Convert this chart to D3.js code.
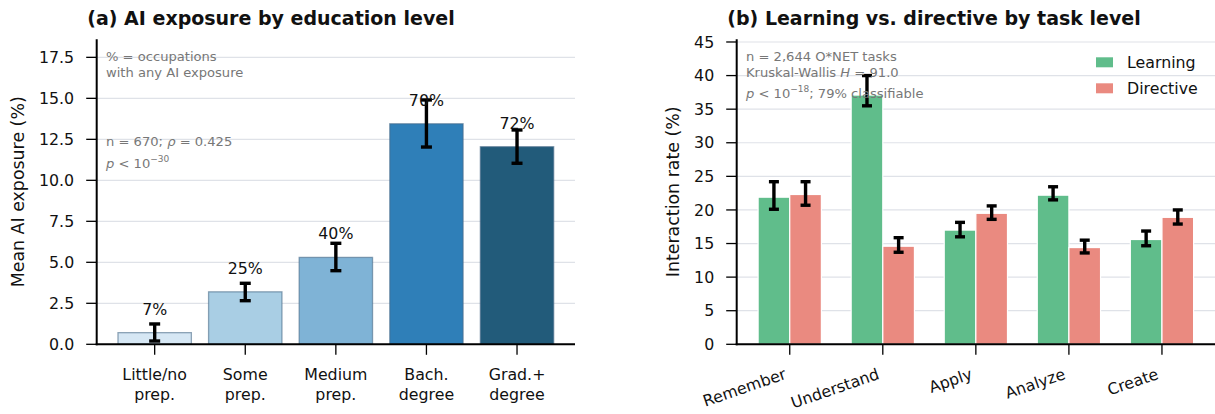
<!DOCTYPE html>
<html><head><meta charset="utf-8">
<script src="https://cdn.jsdelivr.net/npm/d3@7"></script>
<style>body{margin:0;background:#fff}svg{display:block;font-family:"DejaVu Sans",sans-serif}</style>
</head><body>
<svg id="c" width="1215" height="414"></svg>
<script>
// ---- Panel (a) data ----
const educationLevels = [["Little/no","prep."],["Some","prep."],["Medium","prep."],["Bach.","degree"],["Grad.+","degree"]];
const exposureMean = [0.71, 3.2, 5.3, 13.45, 12.05];
const exposureCI = [[0.2,1.24],[2.66,3.72],[4.49,6.16],[12.03,14.9],[11.04,13.07]];
const anyExposurePct = ["7%","25%","40%","70%","72%"];
const exposureTicks = [0,2.5,5,7.5,10,12.5,15,17.5];
const exposureColors = ["#d6e7f4","#a9cee4","#7fb3d6","#2f7fb8","#225b7a"];

// ---- Panel (b) data ----
const taskLevels = ["Remember","Understand","Apply","Analyze","Create"];
const learningRate = [21.9, 37.1, 17.0, 22.2, 15.6];
const learningCI = [[20.1,24.2],[35.5,40.0],[16.0,18.15],[21.5,23.45],[14.67,16.86]];
const directiveRate = [22.3, 14.6, 19.5, 14.4, 18.9];
const directiveCI = [[20.7,24.2],[13.7,15.87],[18.6,20.6],[13.6,15.5],[17.9,20.0]];
const rateTicks = [0,5,10,15,20,25,30,35,40,45];
const seriesNames = ["Learning","Directive"];
const seriesColors = ["#60bd8b","#ea8a80"];

const svg = d3.select("#c");
const plotTop = 39.3, plotBottom = 344.3;
const gridC = "#dfe2e8";
const tickFont = 15.8;

function panel(left, right, xDom, yDom, yTicks, fmt){
  const g = svg.append("g");
  const x = d3.scaleLinear().domain(xDom).range([left, right]);
  const y = d3.scaleLinear().domain(yDom).range([plotBottom, plotTop]);
  g.selectAll("line.grid").data(yTicks).join("line")
    .attr("x1", left).attr("x2", right)
    .attr("y1", d=>y(d)).attr("y2", d=>y(d))
    .attr("stroke", gridC).attr("stroke-width", 1.2);
  return {g, x, y, left, right, yTicks, fmt};
}
function axes(p, xTicks){
  const {g, x, y, left, right, yTicks, fmt} = p;
  const ax = g.append("g");
  ax.selectAll("line.yt").data(yTicks).join("line")
    .attr("x1", left-10.5).attr("x2", left).attr("y1", d=>y(d)).attr("y2", d=>y(d))
    .attr("stroke","#000").attr("stroke-width",1.3);
  ax.selectAll("text.yt").data(yTicks).join("text")
    .attr("x", left-22.5).attr("y", d=>y(d)+5.6).attr("text-anchor","end")
    .attr("font-size", tickFont).attr("fill","#111").text(fmt);
  ax.selectAll("line.xt").data(xTicks).join("line")
    .attr("x1", d=>x(d)).attr("x2", d=>x(d)).attr("y1", plotBottom).attr("y2", plotBottom+10.5)
    .attr("stroke","#000").attr("stroke-width",1.3);
  ax.append("line").attr("x1",left).attr("x2",left).attr("y1",plotTop).attr("y2",plotBottom+1)
    .attr("stroke","#000").attr("stroke-width",2);
  ax.append("line").attr("x1",left-1).attr("x2",right).attr("y1",plotBottom).attr("y2",plotBottom)
    .attr("stroke","#000").attr("stroke-width",2);
}
function errbar(g, cx, y0, y1, cap){
  g.append("line").attr("x1",cx).attr("x2",cx).attr("y1",y0).attr("y2",y1)
    .attr("stroke","#000").attr("stroke-width",3.4);
  [y0,y1].forEach(yy=>g.append("line").attr("x1",cx-cap/2).attr("x2",cx+cap/2)
    .attr("y1",yy).attr("y2",yy).attr("stroke","#000").attr("stroke-width",3.4));
}

// ===== Panel A =====
const A = panel(96.7, 575, [-0.64, 4.64], [0, 18.6], exposureTicks, d=>d.toFixed(1));
const idxA = d3.range(educationLevels.length);
const bwA = 0.81;
A.g.selectAll("rect.bar").data(idxA).join("rect")
  .attr("x", i=>A.x(i-bwA/2)).attr("width", A.x(bwA)-A.x(0))
  .attr("y", i=>A.y(exposureMean[i])).attr("height", i=>A.y(0)-A.y(exposureMean[i]))
  .attr("fill", i=>exposureColors[i])
  .attr("stroke","#4a6a88").attr("stroke-opacity",0.6).attr("stroke-width",1.3);
idxA.forEach(i=>errbar(A.g, A.x(i), A.y(exposureCI[i][1]), A.y(exposureCI[i][0]), 11));
A.g.selectAll("text.pct").data(idxA).join("text")
  .attr("x", i=>A.x(i)).attr("y", i=>A.y(exposureMean[i]+1.43)+5.5)
  .attr("text-anchor","middle").attr("font-size",tickFont).attr("fill","#111")
  .text(i=>anyExposurePct[i]);
axes(A, idxA);
const xlA = A.g.selectAll("text.xl").data(idxA).join("text")
  .attr("text-anchor","middle").attr("font-size",tickFont).attr("fill","#111");
xlA.each(function(i){
  const t = d3.select(this);
  educationLevels[i].forEach((s,k)=>t.append("tspan").attr("x",A.x(i)).attr("y",379.6+k*20).text(s));
});
svg.append("text").attr("transform",`translate(23.5,${(plotTop+plotBottom)/2}) rotate(-90)`)
  .attr("text-anchor","middle").attr("font-size",17.4).attr("fill","#111").text("Mean AI exposure (%)");
svg.append("text").attr("x",87.3).attr("y",25.3).attr("font-size",19).attr("font-weight","bold")
  .attr("fill","#111").text("(a) AI exposure by education level");
const noteC = "#777";
const na = svg.append("g").attr("font-size",13.1).attr("fill",noteC);
na.append("text").attr("x",106).attr("y",61.2).text("% = occupations");
na.append("text").attr("x",106).attr("y",77.2).text("with any AI exposure");
const na2 = na.append("text").attr("x",106).attr("y",146.2);
na2.append("tspan").text("n = 670; ");
na2.append("tspan").attr("font-style","italic").text("ρ");
na2.append("tspan").text(" = 0.425");
const na3 = na.append("text").attr("x",106).attr("y",167.5);
na3.append("tspan").attr("font-style","italic").text("p");
na3.append("tspan").text(" < 10");
na3.append("tspan").attr("font-size",9).attr("dy",-6).text("−30");

// ===== Panel B =====
const B = panel(736.7, 1215, [-0.57, 4.57], [0, 45.4], rateTicks, d=>d);
const idxB = d3.range(taskLevels.length);
const bwB = 0.34;
const seriesVals = [learningRate, directiveRate];
const seriesCI = [learningCI, directiveCI];
seriesVals.forEach((vals, s)=>{
  const off = (s===0 ? -1 : 1) * bwB/2;
  B.g.selectAll("rect.s"+s).data(idxB).join("rect")
    .attr("x", i=>B.x(i+off-bwB/2)).attr("width", B.x(bwB)-B.x(0))
    .attr("y", i=>B.y(vals[i])).attr("height", i=>B.y(0)-B.y(vals[i]))
    .attr("fill", seriesColors[s]).attr("stroke","#fff").attr("stroke-width",1.2);
  idxB.forEach(i=>errbar(B.g, B.x(i+off), B.y(seriesCI[s][i][1]), B.y(seriesCI[s][i][0]), 10));
});
axes(B, idxB);
B.g.selectAll("text.xl").data(idxB).join("text")
  .attr("transform", i=>`translate(${B.x(i)-2.5},${378.5}) rotate(-19)`)
  .attr("text-anchor","end").attr("font-size",tickFont).attr("fill","#111")
  .text(i=>taskLevels[i]);
svg.append("text").attr("transform",`translate(679,${(plotTop+plotBottom)/2}) rotate(-90)`)
  .attr("text-anchor","middle").attr("font-size",17.4).attr("fill","#111").text("Interaction rate (%)");
svg.append("text").attr("x",727.3).attr("y",25.3).attr("font-size",19).attr("font-weight","bold")
  .attr("fill","#111").text("(b) Learning vs. directive by task level");
const lg = svg.append("g");
seriesNames.forEach((n,s)=>{
  const cy = 62.3 + s*26;
  lg.append("rect").attr("x",1096).attr("y",cy-5).attr("width",17).attr("height",10).attr("fill",seriesColors[s]);
  lg.append("text").attr("x",1127).attr("y",cy+5.6).attr("font-size",tickFont).attr("fill","#111").text(n);
});
const nb = svg.append("g").attr("font-size",13.1).attr("fill",noteC);
nb.append("text").attr("x",746).attr("y",61.2).text("n = 2,644 O*NET tasks");
const nb2 = nb.append("text").attr("x",746).attr("y",77.2);
nb2.append("tspan").text("Kruskal-Wallis ");
nb2.append("tspan").attr("font-style","italic").text("H");
nb2.append("tspan").text(" = 91.0");
const nb3 = nb.append("text").attr("x",746).attr("y",97.5);
nb3.append("tspan").attr("font-style","italic").text("p");
nb3.append("tspan").text(" < 10");
nb3.append("tspan").attr("font-size",9).attr("dy",-6).text("−18");
nb3.append("tspan").attr("dy",6).text("; 79% classifiable");
</script>
</body></html>
